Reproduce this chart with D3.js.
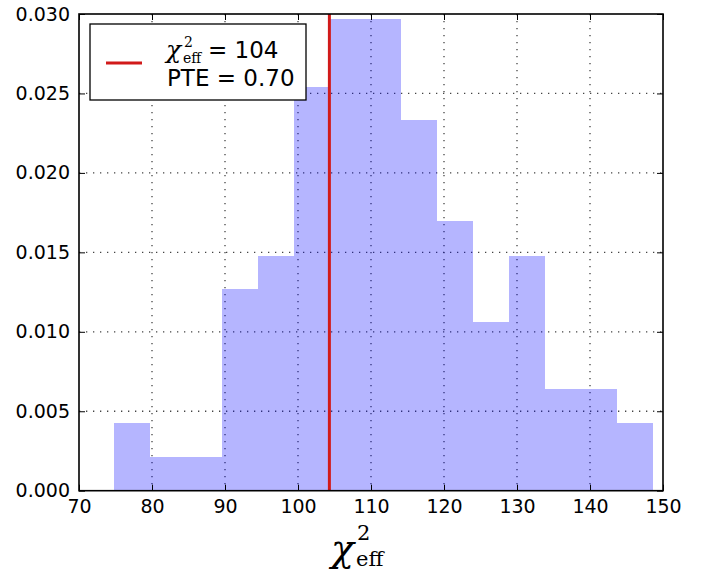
<!DOCTYPE html>
<html><head><meta charset="utf-8">
<script src="https://cdn.jsdelivr.net/npm/d3@7"></script>
<style>
body{margin:0;background:#fff;}
</style></head>
<body><svg id="c" width="714" height="574"></svg>
<script>
// Histogram bin edges (chi^2_eff) and densities
const binEdges = [74.8, 79.72, 84.64, 89.56, 94.48, 99.4, 104.32, 109.24, 114.16, 119.08, 124.0, 128.92, 133.84, 138.76, 143.68, 148.6];
const densities = [0.00425, 0.00212, 0.00212, 0.0127, 0.0148, 0.0254, 0.0297, 0.0297, 0.0233, 0.0170, 0.0106, 0.0148, 0.00637, 0.00637, 0.00425];
const observed = 104.3;
const xTicks = [70, 80, 90, 100, 110, 120, 130, 140, 150];
const yTicks = [0.000, 0.005, 0.010, 0.015, 0.020, 0.025, 0.030];
const legendLines = ["= 104", "PTE = 0.70"];

const SANS = "DejaVu Sans, sans-serif";
const SERIF = "DejaVu Serif, Liberation Serif, serif";
const svg = d3.select("#c");
const L = 79, R = 663, T = 14, B = 490.7;
const x = d3.scaleLinear().domain([70, 150]).range([L, R]);
const y = d3.scaleLinear().domain([0, 0.030]).range([B, T]);

// grid
const g = svg.append("g");
g.selectAll(".gx").data(xTicks.slice(1, -1)).join("line")
  .attr("x1", d => x(d)).attr("x2", d => x(d)).attr("y1", T).attr("y2", B)
  .attr("stroke", "#444").attr("stroke-width", 1.3).attr("stroke-dasharray", "1.3,5.7");
g.selectAll(".gy").data(yTicks.slice(1, -1)).join("line")
  .attr("y1", d => y(d)).attr("y2", d => y(d)).attr("x1", L).attr("x2", R)
  .attr("stroke", "#444").attr("stroke-width", 1.3).attr("stroke-dasharray", "1.3,5.7");

// bars
const bins = densities.map((d, i) => ({x0: binEdges[i], x1: binEdges[i + 1], v: d}));
svg.append("g").selectAll("rect").data(bins).join("rect")
  .attr("x", d => x(d.x0)).attr("width", d => x(d.x1) - x(d.x0))
  .attr("y", d => y(d.v)).attr("height", d => y(0) - y(d.v))
  .attr("fill", "#0000ff").attr("fill-opacity", 0.29).attr("shape-rendering", "crispEdges");

// observed line
svg.append("line").attr("x1", x(observed)).attr("x2", x(observed)).attr("y1", T).attr("y2", B)
  .attr("stroke", "#d11a1a").attr("stroke-width", 3);

// axes
const xb = svg.append("g").attr("transform", `translate(0,${B})`)
  .call(d3.axisBottom(x).tickValues(xTicks).tickSize(-6).tickPadding(9).tickFormat(d3.format("d")));
const xt = svg.append("g").attr("transform", `translate(0,${T})`)
  .call(d3.axisTop(x).tickValues(xTicks).tickSize(-6).tickFormat(""));
const yl = svg.append("g").attr("transform", `translate(${L},0)`)
  .call(d3.axisLeft(y).tickValues(yTicks).tickSize(-6).tickPadding(9).tickFormat(d3.format(".3f")));
const yr = svg.append("g").attr("transform", `translate(${R},0)`)
  .call(d3.axisRight(y).tickValues(yTicks).tickSize(-6).tickFormat(""));
[xb, xt, yl, yr].forEach(a => {
  a.select(".domain").remove();
  a.selectAll("line").attr("stroke", "#000").attr("stroke-width", 1);
  a.selectAll("text").style("font-family", SANS).style("font-size", "19px").attr("fill", "#000");
});
svg.append("rect").attr("x", L).attr("y", T).attr("width", R - L).attr("height", B - T)
  .attr("fill", "none").attr("stroke", "#000").attr("stroke-width", 1.6);

// legend
const lg = svg.append("g");
lg.append("rect").attr("x", 90).attr("y", 24).attr("width", 216).attr("height", 76)
  .attr("fill", "#fff").attr("stroke", "#000").attr("stroke-width", 1.3);
lg.append("line").attr("x1", 106).attr("x2", 142).attr("y1", 63).attr("y2", 63)
  .attr("stroke", "#d11a1a").attr("stroke-width", 3);
function t(sel, xx, yy, fam, size, txt, italic) {
  return sel.append("text").attr("x", xx).attr("y", yy)
    .style("font-family", fam).style("font-size", size + "px")
    .style("font-style", italic ? "italic" : "normal").attr("fill", "#000").text(txt);
}
t(lg, 166, 58, SERIF, 25, "χ", true);
t(lg, 184, 47, SERIF, 14, "2");
t(lg, 183, 63, SERIF, 14, "eff");
t(lg, 208, 58, SANS, 23, legendLines[0]);
t(lg, 167, 86, SANS, 23, legendLines[1]);

// x label
const xl = svg.append("g");
t(xl, 331, 561, SERIF, 38, "χ", true);
t(xl, 357, 540, SERIF, 21, "2");
t(xl, 356, 566, SERIF, 21, "eff");
</script></body></html>
